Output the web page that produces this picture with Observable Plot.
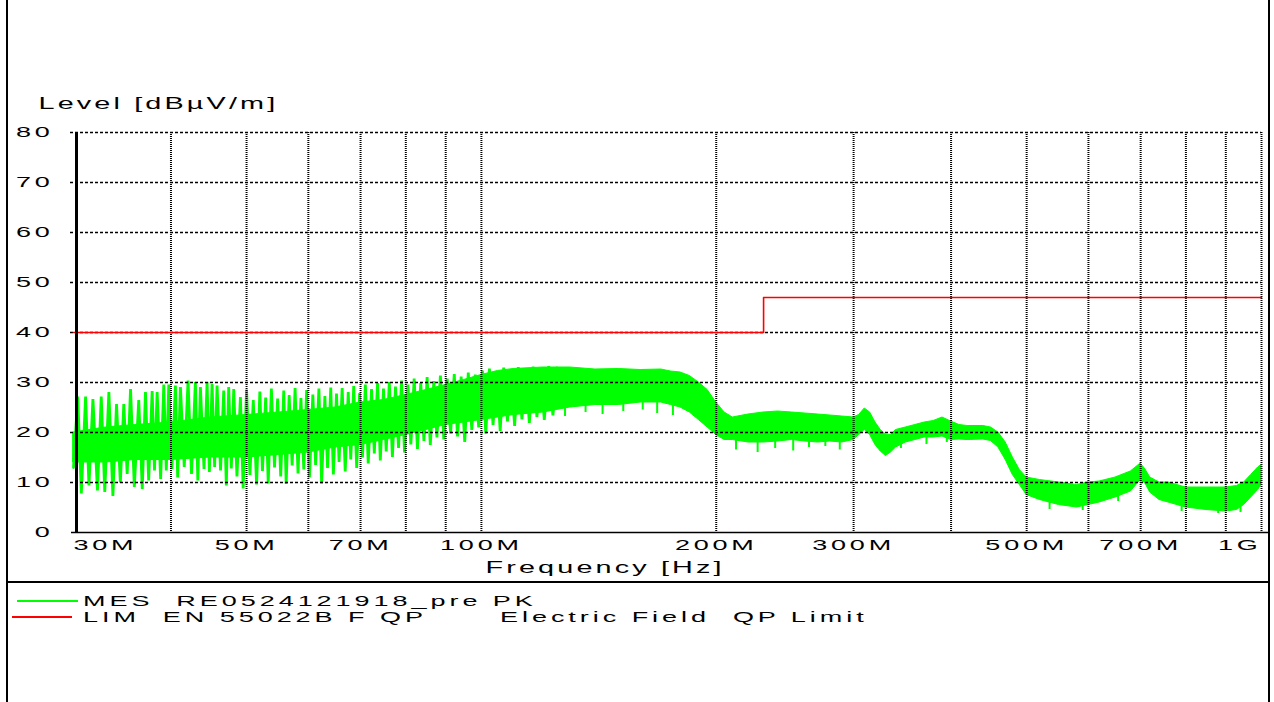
<!DOCTYPE html>
<html>
<head>
<meta charset="utf-8">
<script src="https://cdn.jsdelivr.net/npm/d3@7"></script>
<script src="https://cdn.jsdelivr.net/npm/@observablehq/plot@0.6"></script>
<style>
  html, body { margin: 0; padding: 0; background: #fff; }
  #page { position: relative; width: 1274px; height: 702px; overflow: hidden; background: #fff; }
  #frame { position: absolute; left: 6px; top: -4px; width: 1260px; height: 710px; border-left: 2px solid #000; border-right: 2px solid #000; }
  #sep { position: absolute; left: 7px; top: 581px; width: 1261px; height: 2px; background: #000; }
  #chart { position: absolute; left: 0; top: 0; }
  #chart svg text { letter-spacing: 2.1px; }
  #chart svg text.big { letter-spacing: 1.75px; }
  .legline { position: absolute; }
  .legtext { position: absolute; white-space: pre; font-family: "Liberation Sans", Arial, sans-serif; font-size: 15px; line-height: 16px; letter-spacing: 2.2px; color: #000; transform: scaleX(1.8); transform-origin: 0 50%; }
</style>
</head>
<body>
<div id="page">
  <div id="chart"></div>
  <div id="frame"></div>
  <div id="sep"></div>
  <div id="legend"></div>
</div>
<script>
// ---------- data ----------
// measured peak trace, low-frequency zigzag part (MHz, dBµV/m)
const mesMHz = [30.0,30.38,30.7,31.09,31.4,31.77,32.2,32.56,32.9,33.30,33.7,34.06,34.45,34.80,35.15,35.50,35.9,36.37,36.75,37.10,37.45,37.84,38.1,38.40,38.8,39.16,39.45,39.74,40.1,40.53,40.8,41.13,41.6,42.07,42.5,42.99,43.3,43.63,44.1,44.50,44.8,45.16,45.5,45.83,46.3,46.74,47.1,47.43,47.8,48.14,48.6,49.10,49.5,50.0,50.5,51.0,51.5,52.0,52.4,52.9,53.3,53.8,54.3,54.8,55.3,55.8,56.2,56.7,57.2,57.7,58.2,58.7,59.2,59.7,60.2,60.8,61.3,61.9,62.4,63.0,63.5,64.1,64.6,65.2,65.7,66.3,66.9,67.5,68.0,68.6,69.2,69.8,70.4,71.0,71.6,72.3,72.9,73.6,74.2,74.9,75.5,76.2,76.9,77.6,78.3,79.0,79.7,80.5,81.2,82.0,82.8,83.6,84.4,85.2,86.0,86.9,87.7,88.6,89.5,90.4,91.3,92.3,93.2,94.2,95.2,96.2,97.2,98.2,99.2,100.3,101.3,102.4,103.5,104.6,105.7,106.8,108.0,109.1,110.3,111.5,112.7,114.0,115.2,116.5,117.8,119.1,120.4,122.0,123.5,125.0];
const mesDb  = [13,27.2,7.8,27.2,9.4,26.7,8.4,27.2,8.1,28.1,7.3,25.7,10.0,25.7,11.7,28.7,9.1,26.5,8.7,28.1,10.4,28.3,12.4,28.1,10.7,29.6,12.4,29.6,12.7,29.4,11.0,29.1,13.1,30.4,11.7,30.1,10.4,29.1,12.7,30.1,12.1,29.7,13.1,29.4,12.4,28.4,9.4,29.1,12.8,28.7,11.2,27.1,8.8,28.6,11.5,26.5,9.6,28.2,12.3,27.0,9.8,28.8,13.0,26.8,11.2,28.4,9.7,27.5,13.4,28.9,11.8,26.9,12.6,28.5,11.0,27.6,13.5,28.8,9.8,27.3,12.9,29.0,11.6,27.8,14.1,28.9,12.2,28.1,14.6,29.3,12.9,27.9,15.0,29.6,13.8,28.7,15.8,29.9,14.4,28.8,16.2,30.1,15.1,29.2,16.9,30.4,16.0,29.6,17.6,30.8,16.7,29.9,18.3,31.1,17.5,30.3,19.0,31.4,18.6,30.8,19.8,31.7,19.2,31.2,18.1,32.0,20.5,31.6,21.0,32.4,19.8,32.8,21.5,32.3,20.3,33.0,22.2,32.6,21.3,33.1,22.6,32.7,21.9,33.2,23.1,32.8,22.5,33.3,23.4,32.9];

// dense core of the measured trace: lower and upper envelope (MHz, dBµV/m)
const bandMHz = [30,33,36,40,45,50,55,60,65,70,75,80,85,90,95,100,105,110,120,130,140,150,160,170,175,180,185,190,195,200,205,210,220,230,240,250,260,270,280,290,300,305,310,315,320,325,330,335,340,350,360,370,380,390,400,410,420,440,450,460,470,480,490,500,520,550,580,600,620,650,680,700,710,720,740,760,800,850,900,930,950,970,990,1000];
const bandLo  = [14,14,14.5,14.5,15,15,15.5,16,17,17.5,18.5,19.5,20.5,21.5,22,22.5,23,23.5,24,25,25.5,25.5,26,26,25.5,25,24,22.5,21,19.5,18.5,18.5,18,18,18.2,18.5,18.2,18,18.2,18,18.5,19.5,20.5,19.5,17.5,16.2,15.3,16,17,18,18.5,19,19,19.2,18.5,18.6,18.5,18.6,18.3,17,14.5,11.5,9.5,7.5,6.5,5.5,5,5.5,6,7,8.2,10.5,9.8,8,6.5,6,5,4.5,4.2,4.5,5.5,7,8.5,9.5];
const bandHi  = [20,21,21.5,22,23,23.5,24,24.5,25,26,26.5,27.5,28.5,29.5,30.5,31.5,32.3,32.7,33,33,32.6,32.7,32.5,32.6,32.2,32,31.3,30,28.5,26,24,23,23.6,24,24.2,24,23.8,23.6,23.4,23.2,23,23.5,24.8,24,22,20.5,19.6,19.5,20.5,21,21.5,22,22.3,23,22.2,21.5,21.3,21.3,21,20,18,15,12.5,11,10.5,10,9.5,10,10.2,11,12.2,13.8,12.6,11,10,10,9,9,9,9.3,10,11.5,13,13.5];

// downward spikes below the core band (MHz, bottom dB, top dB)
const dipMHz = [128,136,143,152,161,168,176,212,226,238,251,263,276,288,345,372,395,535,590,655,790,880,940];
const dipLo  = [23.2,24.0,23.6,24.2,24.5,23.8,23.4,16.5,16.0,16.8,16.3,17.0,17.2,16.5,16.8,17.6,18.0,4.6,4.4,6.2,4.2,3.8,4.0];
const dipHi  = [26,26,26,26,26.5,26.5,26,19,19,19,19,19,19,19,18.5,19.5,19.8,7,7,8,6,5.5,6];

// limit line EN 55022 B (MHz, dBµV/m)
const limMHz = [30, 230, 230, 1000];
const limDb  = [40, 40, 47, 47];

// axes
const yTicks = [0, 10, 20, 30, 40, 50, 60, 70, 80];
const gridMHz = [40,50,60,70,80,90,100,200,300,400,500,600,700,800,900,1000];
const xLabelMHz = [30,50,70,100,200,300,500,700,1000];
const xLabelText = ["30M","50M","70M","100M","200M","300M","500M","700M","1G"];
const yTitle = "Level [dBµV/m]";
const xTitle = "Frequency [Hz]";

// legend
const legendCodes = ["MES  RE0524121918_pre PK", "LIM  EN 55022B F QP"];
const legendNotes = ["", "Electric Field  QP Limit"];
const legendColors = ["#00ff00", "#ff0000"];

// ---------- tables ----------
const M = 1e6;
const mes = mesMHz.map((f, i) => ({f: f * M, v: mesDb[i]}));
const band = bandMHz.map((f, i) => ({f: f * M, lo: bandLo[i], hi: bandHi[i]}));
const dips = dipMHz.map((f, i) => ({f: f * M, lo: dipLo[i], hi: dipHi[i]}));
const lim = limMHz.map((f, i) => ({f: f * M, v: limDb[i]}));
const xLabels = xLabelMHz.map((f, i) => ({f: f * M, t: xLabelText[i]}));
const nL = xLabels.length;

const chart = Plot.plot({
  width: 1274,
  height: 582,
  marginTop: 132,
  marginBottom: 50,
  marginLeft: 73,
  marginRight: 13,
  x: {type: "log", domain: [30e6, 1e9], axis: null},
  y: {domain: [0, 80], axis: null},
  style: {fontFamily: "'Liberation Sans', Arial, sans-serif", fontSize: "15px", color: "#000", background: "transparent", overflow: "visible"},
  marks: [
    Plot.areaY(band, {x: "f", y1: "lo", y2: "hi", fill: "#00ff00", stroke: "#00ff00", strokeWidth: 1, curve: "linear"}),
    Plot.line(mes, {x: "f", y: "v", stroke: "#00ff00", strokeWidth: 2.8, strokeLinejoin: "miter"}),
    Plot.ruleX(dips, {x: "f", y1: "lo", y2: "hi", stroke: "#00ff00", strokeWidth: 2}),
    Plot.gridY(yTicks.filter(d => d > 0), {stroke: "#000", strokeOpacity: 1, strokeWidth: 1.3, strokeDasharray: "3,2", insetLeft: -3}),
    Plot.gridX(gridMHz.map(d => d * M), {stroke: "#000", strokeOpacity: 1, strokeWidth: 2, strokeDasharray: "1,1"}),
    Plot.line(lim, {x: "f", y: "v", stroke: "#ff0000", strokeWidth: 1.6}),
    Plot.ruleY([0], {stroke: "#000", strokeWidth: 1.6, insetLeft: -2, insetRight: -7}),
    Plot.ruleX([30e6], {y1: 0, y2: 80, stroke: "#000", strokeWidth: 3, dx: 3}),
    Plot.text(yTicks, {y: d => d, text: d => String(d), frameAnchor: "left", textAnchor: "end", lineAnchor: "middle", dx: -20}),
    Plot.text(xLabels.slice(0, 1), {x: "f", text: "t", frameAnchor: "bottom", textAnchor: "start", lineAnchor: "middle", dy: 13}),
    Plot.text(xLabels.slice(1, nL - 1), {x: "f", text: "t", frameAnchor: "bottom", textAnchor: "middle", lineAnchor: "middle", dy: 13}),
    Plot.text(xLabels.slice(nL - 1), {x: "f", text: "t", frameAnchor: "bottom", textAnchor: "end", lineAnchor: "middle", dy: 13}),
    Plot.text([yTitle], {frameAnchor: "top-left", textAnchor: "start", lineAnchor: "middle", dx: -35, dy: -29, fontSize: 16, className: "big"}),
    Plot.text([xTitle], {frameAnchor: "bottom-left", textAnchor: "start", lineAnchor: "middle", dx: 412, dy: 35, fontSize: 16, className: "big"})
  ]
});

// stretch glyphs horizontally like the instrument font (scale after Plot's own translate)
const S = 1.8;
chart.querySelectorAll("text").forEach(t => {
  const tr = t.getAttribute("transform") || "";
  t.setAttribute("transform", `${tr} scale(${S},1)`);
});
chart.querySelectorAll("g.big text").forEach(t => t.classList.add("big"));
document.getElementById("chart").appendChild(chart);

// legend
const leg = document.getElementById("legend");
const rowY = [601, 617];
const lineX = [[17, 61, 2.2], [12, 60, 1.6]];
legendCodes.forEach((code, i) => {
  const ln = document.createElement("div");
  ln.className = "legline";
  ln.style.left = lineX[i][0] + "px";
  ln.style.width = lineX[i][1] + "px";
  ln.style.top = (rowY[i] - lineX[i][2] / 2) + "px";
  ln.style.height = lineX[i][2] + "px";
  ln.style.background = legendColors[i];
  leg.appendChild(ln);
  const tx = document.createElement("div");
  tx.className = "legtext";
  tx.style.left = "83px";
  tx.style.top = (rowY[i] - 8) + "px";
  tx.textContent = code;
  leg.appendChild(tx);
  if (legendNotes[i]) {
    const nt = document.createElement("div");
    nt.className = "legtext";
    nt.style.left = "500px";
    nt.style.top = (rowY[i] - 8) + "px";
    nt.textContent = legendNotes[i];
    leg.appendChild(nt);
  }
});
</script>
</body>
</html>
